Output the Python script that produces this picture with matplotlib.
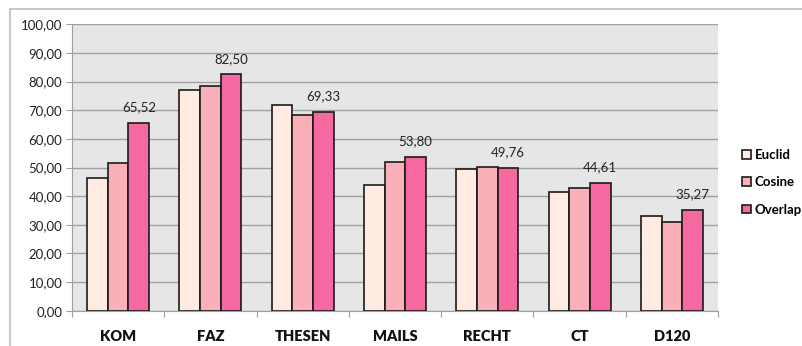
import matplotlib
matplotlib.use("Agg")
import matplotlib.pyplot as plt
import numpy as np
from matplotlib.patches import Rectangle

categories = ["KOM", "FAZ", "THESEN", "MAILS", "RECHT", "CT", "D120"]
euclid = [46.4, 77.2, 71.9, 43.8, 49.6, 41.3, 32.9]
cosine = [51.6, 78.5, 68.5, 51.8, 50.2, 43.0, 30.9]
overlap = [65.52, 82.50, 69.33, 53.80, 49.76, 44.61, 35.27]
series_names = ["Euclid", "Cosine", "Overlap"]
colors = ["#FFEBE1", "#F9B0B8", "#F569A0"]

plt.rcParams["font.family"] = ["Lato", "DejaVu Sans"]

W, H = 802, 346
fig = plt.figure(figsize=(W / 100, H / 100), dpi=100)
fig.patch.set_facecolor("white")

# outer chart frame
fig.patches.append(Rectangle((10 / W, -0.1), 1.2, (H - 9) / H + 0.1,
                             transform=fig.transFigure, fill=False,
                             edgecolor="#BEBEBE", linewidth=1.2))

x0, x1, ytop, ybot = 72, 718, 24.3, 310.7
ax = fig.add_axes([x0 / W, 1 - ybot / H, (x1 - x0) / W, (ybot - ytop) / H])
ax.set_facecolor("#E6E6E6")

x = np.arange(len(categories))
bw = 0.224
for i, (vals, c, name) in enumerate(zip([euclid, cosine, overlap], colors, series_names)):
    ax.bar(x + (i - 1) * bw, vals, width=bw, color=c, edgecolor="#1A1A1A",
           linewidth=1.2, label=name, zorder=3)

for xi, v in zip(x, overlap):
    ax.annotate(f"{v:.2f}".replace(".", ","), (xi + bw, v), xytext=(0, 7),
                textcoords="offset points", ha="center", va="bottom",
                fontsize=9.5, color="#222222")

ax.set_xlim(-0.5, len(categories) - 0.5)
ax.set_ylim(0, 100)
ax.set_yticks(np.arange(0, 101, 10))
ax.set_yticklabels([f"{t:.2f}".replace(".", ",") for t in np.arange(0, 101, 10)],
                   fontsize=9.5, color="#222222")
ax.yaxis.grid(True, color="#A0A0A0", linewidth=1.0, zorder=0)
ax.set_axisbelow(True)

ax.set_xticks(np.arange(-0.5, len(categories), 1.0))
ax.set_xticklabels([])
ax.set_xticks(x, minor=True)
ax.set_xticklabels(categories, minor=True, fontsize=10.5, fontweight="heavy",
                   color="#111111")
ax.tick_params(axis="x", which="minor", length=0, pad=14)
ax.tick_params(axis="x", which="major", length=4, color="#A0A0A0")
ax.tick_params(axis="y", length=4, color="#A0A0A0", pad=3)

for s in ["top", "right"]:
    ax.spines[s].set_visible(False)
ax.spines["left"].set_color("#A0A0A0")
ax.spines["bottom"].set_color("#A0A0A0")

leg = fig.legend(loc="upper left", bbox_to_anchor=(737 / W, 1 - 144 / H),
                 frameon=False, handlelength=0.65, handleheight=0.65,
                 handletextpad=0.3, labelspacing=1.15, borderaxespad=0,
                 prop={"weight": "bold", "size": 9.5})

fig.savefig("out.png", dpi=100)
